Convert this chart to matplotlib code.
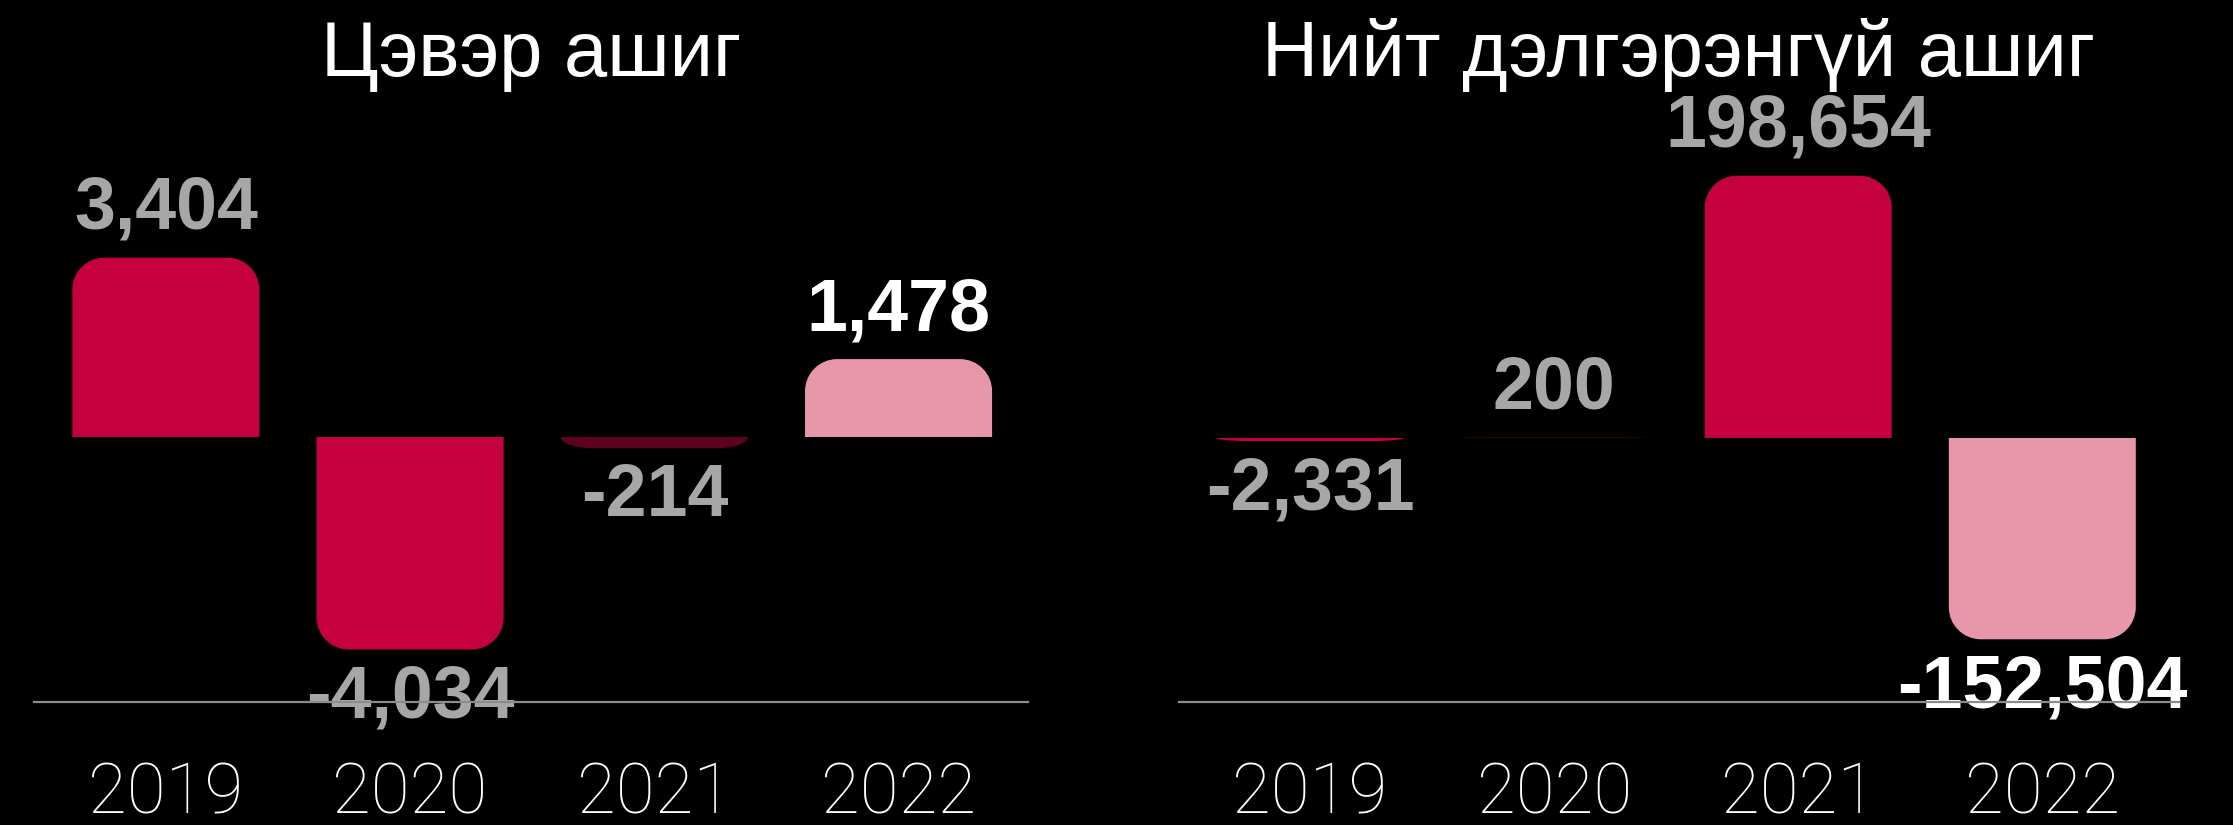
import matplotlib
matplotlib.use("Agg")
import matplotlib.pyplot as plt
from matplotlib.path import Path
from matplotlib.patches import PathPatch
from matplotlib.transforms import IdentityTransform

# data
years = ["2019", "2020", "2021", "2022"]
net_profit = [3404, -4034, -214, 1478]
total_profit = [-2331, 200, 198654, -152504]

net_title = "Цэвэр ашиг"
total_title = "Нийт дэлгэрэнгүй ашиг"

RED = "#C4003F"
DARK = "#5E0020"
PINK = "#E896AA"
GRAY = "#A7A7A9"
WHITE = "#FFFFFF"

net_colors = [RED, RED, DARK, PINK]
total_colors = [RED, RED, RED, PINK]
net_label_colors = [GRAY, GRAY, GRAY, WHITE]
total_label_colors = [GRAY, GRAY, GRAY, WHITE]

W, H = 2233, 825
fig = plt.figure(figsize=(W / 100, H / 100), dpi=100, facecolor="black")

ax1 = fig.add_axes([34 / W, 123 / H, 994 / W, 602 / H])
ax2 = fig.add_axes([1179 / W, 123 / H, 1000 / W, 602 / H])


def rounded_bar(ax, rect, color, r=32):
    # build the bar outline in pixels so the far corners stay round
    x0, w, h = rect.get_x(), rect.get_width(), rect.get_height()
    px0, py0 = ax.transData.transform((x0, 0))
    px1, py1 = ax.transData.transform((x0 + w, h))
    s = 1 if py1 >= py0 else -1
    rx = min(r, (px1 - px0) / 2)
    ry = min(r, abs(py1 - py0))
    k = 0.5523
    verts = [
        (px0, py0),
        (px0, py1 - s * ry),
        (px0, py1 - s * ry + s * k * ry), (px0 + rx - k * rx, py1), (px0 + rx, py1),
        (px1 - rx, py1),
        (px1 - rx + k * rx, py1), (px1, py1 - s * ry + s * k * ry), (px1, py1 - s * ry),
        (px1, py0),
        (px0, py0),
    ]
    codes = [Path.MOVETO, Path.LINETO,
             Path.CURVE4, Path.CURVE4, Path.CURVE4,
             Path.LINETO,
             Path.CURVE4, Path.CURVE4, Path.CURVE4,
             Path.LINETO, Path.CLOSEPOLY]
    patch = PathPatch(Path(verts, codes), facecolor=color, edgecolor="none",
                      transform=IdentityTransform(), zorder=1)
    ax.add_artist(patch)


def draw_panel(ax, values, colors, label_colors, ylim, xlim):
    ax.set_facecolor("black")
    ax.set_xlim(*xlim)
    ax.set_ylim(*ylim)
    ax.set_autoscale_on(False)
    x = list(range(len(values)))
    bars = ax.bar(x, values, width=0.766)
    for rect, c in zip(bars, colors):
        rect.set_visible(False)
        rounded_bar(ax, rect, c)
    for xi, v, lc in zip(x, values, label_colors):
        off = 35 if v >= 0 else -35
        ax.annotate(f"{v:,}", xy=(xi, v), xytext=(0, off), textcoords="offset points",
                    ha="center", va="center", fontsize=53, fontweight="bold",
                    family=["Liberation Sans", "DejaVu Sans"], color=lc,
                    zorder=2, annotation_clip=False)
    for side in ["top", "left", "right"]:
        ax.spines[side].set_visible(False)
    ax.spines["bottom"].set_color("#8C8C8C")
    ax.spines["bottom"].set_linewidth(1.6)
    ax.spines["bottom"].set_zorder(4)
    ax.set_yticks([])
    ax.set_xticks(x, years, fontsize=51, fontweight="light",
                  family=["Roboto", "DejaVu Sans"], color="white")
    ax.tick_params(axis="x", length=0, pad=42)


draw_panel(ax1, net_profit, net_colors, net_label_colors, (-5030, 6396), (-0.54, 3.53))
draw_panel(ax2, total_profit, total_colors, total_label_colors, (-200000, 256000), (-0.537, 3.56))

for ax, title in [(ax1, net_title), (ax2, total_title)]:
    pos = ax.get_position()
    fig.text(pos.x0 + pos.width / 2, 1 - 76 / H, title, ha="center", va="baseline",
             fontsize=56, color="white", family=["Liberation Sans", "DejaVu Sans"])

fig.savefig("out.png", dpi=100, facecolor="black")
